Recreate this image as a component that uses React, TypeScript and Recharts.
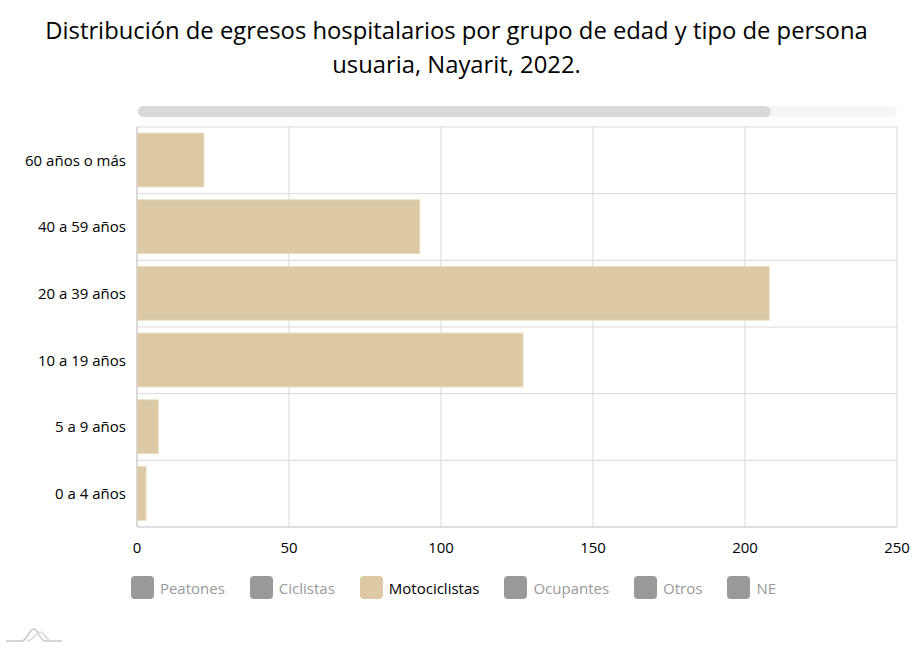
import React from 'react';
import { BarChart, Bar, XAxis, YAxis, CartesianGrid } from 'recharts';

//================================================================================
// Egresos hospitalarios, Nayarit 2022
//================================================================================

const categories = [
	'0 a 4 años',
	'5 a 9 años',
	'10 a 19 años',
	'20 a 39 años',
	'40 a 59 años',
	'60 años o más',
];
const motociclistas = [3, 7, 127, 208, 93, 22];
const xTicks = [0, 50, 100, 150, 200, 250];
const seriesNames = ['Peatones', 'Ciclistas', 'Motociclistas', 'Ocupantes', 'Otros', 'NE'];
const visibleSeries = 'Motociclistas';

const barColor = '#ddc9a3';
const hiddenColor = '#999999';
const font = '"Open Sans", sans-serif';

const data = categories.map((grupo, i) => ({
	grupo,
	Motociclistas: motociclistas[i],
}));

const LegendRow = () => (
	<div
		style={{
			position: 'absolute',
			top: 576,
			left: -3,
			width: 913,
			display: 'flex',
			justifyContent: 'center',
			fontFamily: font,
			fontSize: 15,
		}}
	>
		{seriesNames.map((name) => {
			const active = name === visibleSeries;
			return (
				<div
					key={name}
					style={{ display: 'flex', alignItems: 'center', margin: '0 12.5px' }}
				>
					<div
						style={{
							width: 23,
							height: 23,
							borderRadius: 4,
							background: active ? barColor : hiddenColor,
							marginRight: 6,
						}}
					/>
					<span style={{ color: active ? '#000' : hiddenColor }}>{name}</span>
				</div>
			);
		})}
	</div>
);

export default function App() {
	return (
		<div
			style={{
				position: 'absolute',
				left: 0,
				top: 0,
				width: 913,
				height: 648,
				background: '#fff',
				fontFamily: font,
			}}
		>
			<div
				style={{
					position: 'absolute',
					top: 13,
					left: 0,
					width: 913,
					textAlign: 'center',
					fontSize: 23.8,
					lineHeight: '34px',
					color: '#000',
				}}
			>
				Distribución de egresos hospitalarios por grupo de edad y tipo de persona
				<br />
				usuaria, Nayarit, 2022.
			</div>

			{/* scrollbar */}
			<div
				style={{
					position: 'absolute',
					left: 138,
					top: 106,
					width: 759,
					height: 11,
					borderRadius: 6,
					background: '#f6f6f6',
				}}
			/>
			<div
				style={{
					position: 'absolute',
					left: 138,
					top: 106,
					width: 633,
					height: 11,
					borderRadius: 6,
					background: '#d9d9d9',
				}}
			/>

			<BarChart
				width={913}
				height={648}
				layout="vertical"
				data={data}
				margin={{ top: 127, right: 16, bottom: 91, left: 37 }}
			>
				<CartesianGrid
					stroke="#d9d9d9"
					horizontalCoordinatesGenerator={({ offset }) =>
						Array.from(
							{ length: categories.length + 1 },
							(_, i) => offset.top + (i * offset.height) / categories.length
						)
					}
				/>
				<XAxis
					type="number"
					domain={[0, 250]}
					ticks={xTicks}
					height={30}
					tickLine={false}
					tickMargin={9}
					axisLine={{ stroke: '#d0d0d0' }}
					tick={{ fill: '#000', fontSize: 15 }}
				/>
				<YAxis
					type="category"
					dataKey="grupo"
					reversed
					width={100}
					tickLine={false}
					tickMargin={5}
					axisLine={{ stroke: '#c8c8c8' }}
					tick={{ fill: '#000', fontSize: 15 }}
				/>
				<Bar
					dataKey="Motociclistas"
					fill={barColor}
					stroke="#ecdfc6"
					barSize={54}
					isAnimationActive={false}
				/>
			</BarChart>

			<LegendRow />

			{/* logo */}
			<svg
				style={{ position: 'absolute', left: 5, top: 626 }}
				width={58}
				height={18}
			>
				<path
					d="M1 15 H17 C22 15 24 3 29 3 C33 3 35 15 40 15 H57"
					fill="none"
					stroke="#c8c8c8"
					strokeWidth={1.5}
				/>
				<path
					d="M22 15 C28 15 31 6 35 6 C39 6 42 15 46 15"
					fill="none"
					stroke="#d8d8d8"
					strokeWidth={1.5}
				/>
			</svg>
		</div>
	);
}
